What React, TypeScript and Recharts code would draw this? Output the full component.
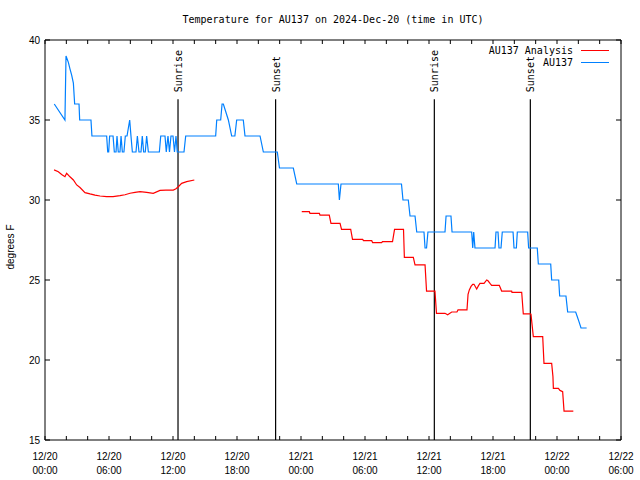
import React from 'react';
import { LineChart, Line, XAxis, YAxis, ReferenceLine, ReferenceArea, Legend } from 'recharts';

// hours since 12/20 00:00 UTC
const hourTicks = [0, 2, 4, 6, 8, 10, 12, 14, 16, 18, 20, 22, 24, 26, 28, 30, 32, 34, 36, 38, 40, 42, 44, 46, 48, 50, 52, 54];
const dayLabels = ['12/20', '12/20', '12/20', '12/20', '12/21', '12/21', '12/21', '12/21', '12/22', '12/22'];
const clockLabels = ['00:00', '06:00', '12:00', '18:00', '00:00', '06:00', '12:00', '18:00', '00:00', '06:00'];
const tempTicks = [15, 20, 25, 30, 35, 40];

const sunTimes = [12.47, 21.62, 36.5, 45.5];
const sunNames = ['Sunrise', 'Sunset', 'Sunrise', 'Sunset'];

const legendOrder = ['AU137 Analysis', 'AU137'];

// AU137 observations
const stationTimes = [
  0.87, 1.87, 1.97, 2.19, 2.34, 2.5, 2.66, 2.78, 3.19, 3.25, 4.31, 4.4,
  5.78, 5.88, 5.97, 6.06, 6.38, 6.5, 6.66, 6.75, 6.87, 7.03, 7.13, 7.25, 7.4, 7.53, 7.69, 7.94, 8.06, 8.19,
  8.53, 8.66, 8.81, 9.0, 9.12, 9.25, 9.4, 9.53, 9.69, 10.72, 10.85, 11.25, 11.37, 11.53, 11.67, 11.81, 12.0,
  12.14, 12.28, 12.4, 13.03, 13.19, 16.0, 16.1, 16.47, 16.6, 16.72, 17.19, 17.5, 17.8, 17.97, 18.59, 18.75,
  20.16, 20.47, 21.78, 21.98, 23.28, 23.6, 27.5, 27.6, 27.75, 33.42, 33.56, 34.06, 34.22, 34.69, 34.85,
  35.53, 35.63, 35.77, 35.9, 37.5, 37.6, 38.06, 38.16, 40.0, 40.1, 40.19, 40.31, 42.19, 42.28, 42.47, 42.56,
  42.75, 42.87, 43.88, 43.97, 44.19, 44.28, 45.25, 45.34, 46.15, 46.25, 47.41, 47.5, 48.16, 48.25, 48.84,
  49.0, 49.75, 49.88, 50.06, 50.25, 50.78,
];
const stationTemps = [
  36, 35, 39, 38.6, 38.2, 37.8, 37.3, 36, 36, 35, 35, 34,
  34, 33, 33, 34, 34, 33, 33, 34, 33, 33, 34, 33, 33, 34, 34, 35, 34, 33,
  33, 34, 33, 33, 34, 33, 33, 34, 33, 33, 34, 34, 33, 34, 33, 34, 34,
  33, 34, 33, 33, 34, 34, 35, 35, 36, 36, 35, 34, 34, 35, 35, 34,
  34, 33, 33, 32, 32, 31, 31, 30, 31, 31, 30, 30, 29, 29, 28,
  28, 27, 27, 28, 28, 29, 29, 28, 28, 27, 28, 27, 27, 28, 28, 27,
  27, 28, 28, 27, 27, 28, 28, 27, 27, 26, 26, 25, 25, 24, 24,
  23, 23, 22.75, 22.4, 22, 22,
];

// AU137 analysis (null = gap)
const analysisTimes = [
  0.85, 1.25, 1.56, 1.87, 2.03, 2.34, 2.66, 2.97, 3.28, 3.75, 4.22, 4.69, 5.16, 5.78, 6.38, 7.03, 7.5, 7.97,
  8.44, 8.91, 9.53, 10.15, 10.78, 11.34, 12.03, 12.28, 12.5, 12.81, 13.28, 14.0,
  19.0,
  24.07, 24.78, 24.84, 25.72, 25.78, 26.65, 26.81, 27.66, 27.8, 28.66, 28.83, 29.78, 29.86, 30.63, 30.72,
  31.56, 31.64, 32.58, 32.77, 33.61, 33.69, 34.53, 34.69, 35.63, 35.77, 36.56, 36.7, 37.5, 37.75, 38.13,
  38.62, 38.72, 39.56, 39.66, 39.78, 39.94, 40.1, 40.22, 40.47, 40.64, 40.78, 41.16, 41.41, 41.53, 41.72,
  41.87, 42.59, 42.81, 43.75, 43.78, 44.69, 44.84, 45.47, 45.56, 45.78, 46.66, 46.78, 47.5, 47.62, 47.66,
  48.13, 48.28, 48.53, 48.66, 49.53,
];
const analysisTemps = [
  31.88, 31.77, 31.6, 31.46, 31.67, 31.45, 31.25, 30.94, 30.78, 30.46, 30.38, 30.31, 30.25, 30.21, 30.21, 30.27, 30.33, 30.42,
  30.48, 30.52, 30.48, 30.42, 30.6, 30.62, 30.62, 30.7, 30.83, 31.04, 31.15, 31.25,
  null,
  29.27, 29.27, 29.17, 29.17, 29.06, 29.06, 28.54, 28.54, 28.17, 28.17, 27.54, 27.54, 27.46, 27.46, 27.33,
  27.33, 27.4, 27.4, 28.17, 28.17, 26.42, 26.42, 25.94, 25.94, 24.31, 24.31, 22.92, 22.92, 22.83, 23.0,
  23.0, 23.13, 23.13, 24.1, 24.38, 24.6, 24.73, 24.73, 24.44, 24.65, 24.79, 24.79, 25.0, 24.95, 24.79,
  24.67, 24.67, 24.31, 24.31, 24.23, 24.23, 22.88, 22.88, 22.86, 21.46, 21.46, 19.79, 19.79, 18.96, 18.23,
  18.23, 18.1, 18.02, 16.81, 16.81,
];

const stationData = stationTimes.map((t, i) => ({ t, v: stationTemps[i] }));
const analysisData = analysisTimes.map((t, i) => ({ t, v: analysisTemps[i] }));

const LEFT = 45;
const RIGHT = 621;
const TOP = 40;
const BOTTOM = 440;
const mono = '"DejaVu Sans Mono", monospace';
const sans = '"Liberation Sans", Arial, sans-serif';

const HourTick = (props: any) => {
  const { x, payload } = props;
  const h = payload.value;
  const major = h % 6 === 0;
  return (
    <g>
      <line x1={x} x2={x} y1={BOTTOM} y2={BOTTOM - 4} stroke="#000" />
      <line x1={x} x2={x} y1={TOP} y2={TOP + 4} stroke="#000" />
      {major && (
        <text x={x} textAnchor="middle" fontFamily={sans} fontSize={10} fill="#000">
          <tspan x={x} y={460}>{dayLabels[h / 6]}</tspan>
          <tspan x={x} y={474}>{clockLabels[h / 6]}</tspan>
        </text>
      )}
    </g>
  );
};

const TempTick = (props: any) => {
  const { y, payload } = props;
  return (
    <g>
      <line x1={LEFT} x2={LEFT + 5} y1={y} y2={y} stroke="#000" />
      <line x1={RIGHT} x2={RIGHT - 5} y1={y} y2={y} stroke="#000" />
      <text x={40} y={y + 3.5} textAnchor="end" fontFamily={sans} fontSize={10} fill="#000">
        {payload.value}
      </text>
    </g>
  );
};

const sunLabel = (name: string) => (props: any) => {
  const vb = props.viewBox || {};
  const x = vb.x + 4;
  const y = vb.y - 7;
  return (
    <text x={x} y={y} transform={`rotate(-90 ${x} ${y})`} fontFamily={mono} fontSize={10} fill="#000">
      {name}
    </text>
  );
};

const LegendBox = (props: any) => {
  const items = [...(props.payload || [])].sort(
    (a: any, b: any) => legendOrder.indexOf(a.value) - legendOrder.indexOf(b.value)
  );
  return (
    <svg width={180} height={32}>
      {items.map((it: any, i: number) => (
        <g key={it.value}>
          <text x={133} y={12 + i * 12} textAnchor="end" fontFamily={mono} fontSize={10} fill="#000">
            {it.value}
          </text>
          <line x1={141} x2={169} y1={8.5 + i * 12} y2={8.5 + i * 12} stroke={it.color} />
        </g>
      ))}
    </svg>
  );
};

export default function App() {
  return (
    <div style={{ position: 'absolute', left: 0, top: 0, width: 640, height: 480, background: '#fff' }}>
      <div
        style={{
          position: 'absolute', left: 0, top: 14, width: 666, textAlign: 'center',
          fontFamily: mono, fontSize: 10, lineHeight: '12px', color: '#000',
        }}
      >
        Temperature for AU137 on 2024-Dec-20 (time in UTC)
      </div>
      <LineChart width={640} height={480} margin={{ top: TOP, right: 640 - RIGHT, bottom: 0, left: 5 }}>
        <XAxis
          type="number"
          dataKey="t"
          domain={[0, 54]}
          ticks={hourTicks}
          interval={0}
          allowDataOverflow
          axisLine={false}
          tickLine={false}
          tick={<HourTick />}
          height={40}
        />
        <YAxis
          type="number"
          domain={[15, 40]}
          ticks={tempTicks}
          interval={0}
          allowDataOverflow
          axisLine={false}
          tickLine={false}
          tick={<TempTick />}
          width={40}
          label={() => (
            <text x={13.5} y={247} transform="rotate(-90 13.5 247)" textAnchor="middle" fontFamily={sans} fontSize={10} fill="#000">
              degrees F
            </text>
          )}
        />
        <ReferenceArea x1={0} x2={54} y1={15} y2={40} fill="none" stroke="#000" strokeWidth={1} />
        {sunTimes.map((t, i) => (
          <ReferenceLine
            key={i}
            segment={[{ x: t, y: 15 }, { x: t, y: 36.3 }]}
            stroke="#000"
            strokeWidth={1.2}
            label={sunLabel(sunNames[i])}
          />
        ))}
        <Legend
          layout="vertical"
          align="center"
          verticalAlign="middle"
          wrapperStyle={{ left: 440, top: 42, width: 180, height: 32 }}
          content={<LegendBox />}
        />
        <Line
          data={analysisData}
          dataKey="v"
          name="AU137 Analysis"
          type="linear"
          stroke="#ff0000"
          strokeWidth={1.2}
          dot={false}
          activeDot={false}
          isAnimationActive={false}
        />
        <Line
          data={stationData}
          dataKey="v"
          name="AU137"
          type="linear"
          stroke="#0080ff"
          strokeWidth={1.2}
          dot={false}
          activeDot={false}
          isAnimationActive={false}
        />
      </LineChart>
    </div>
  );
}
